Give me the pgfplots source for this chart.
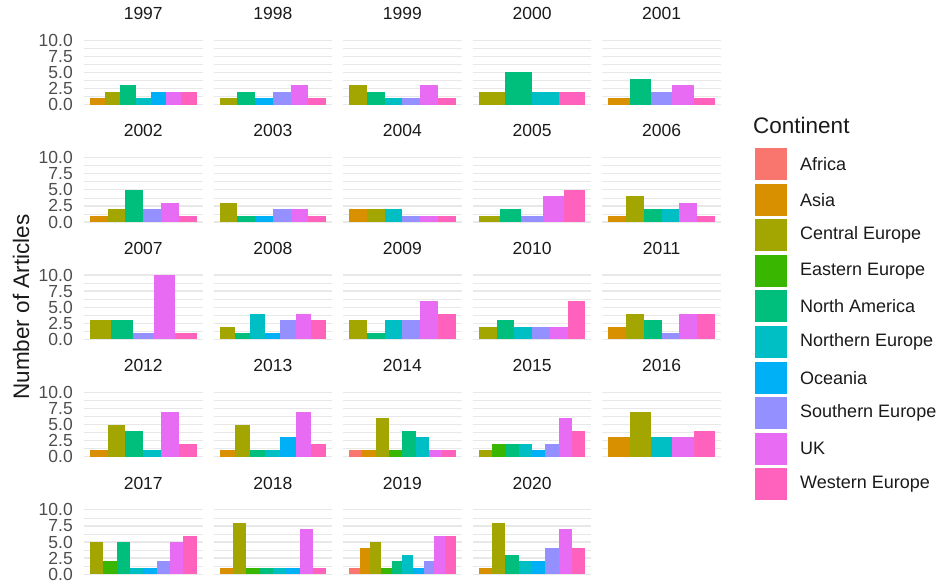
\documentclass[border=0pt]{standalone}
\usepackage{pgfplots}
\pgfplotsset{compat=1.18}
\usepackage{fontspec}
\setmainfont{Liberation Sans}
\definecolor{cAf}{HTML}{F8766D}
\definecolor{cAs}{HTML}{D89000}
\definecolor{cCE}{HTML}{A3A500}
\definecolor{cEE}{HTML}{39B600}
\definecolor{cNA}{HTML}{00BF7D}
\definecolor{cNE}{HTML}{00BFC4}
\definecolor{cOc}{HTML}{00B0F6}
\definecolor{cSE}{HTML}{9590FF}
\definecolor{cUK}{HTML}{E76BF3}
\definecolor{cWE}{HTML}{FF62BC}
\definecolor{gridc}{HTML}{E8E8E8}
\definecolor{tickc}{HTML}{4D4D4D}
\definecolor{txtc}{HTML}{1A1A1A}
\pgfplotsset{
  panel/.style={scale only axis, width=118.5pt, height=70.8pt, anchor=north west,
    ymin=-0.5, ymax=10.5, axis line style={draw=none}, xtick=\empty,
    ytick={0,2.5,5,7.5,10}, minor ytick={1.25,3.75,6.25,8.75},
    ymajorgrids, yminorgrids, tick style={draw=none},
    major grid style={draw=gridc, line width=1.3pt},
    minor grid style={draw=gridc, line width=0.7pt},
    yticklabels={},
    title style={at={(0.5,1)}, anchor=base, yshift=11.5pt, font=\fontsize{17.5}{20}\selectfont, text=txtc, inner sep=0pt}},
  lab/.style={yticklabels={0.0,2.5,5.0,7.5,10.0},
    yticklabel style={font=\fontsize{17.5}{20}\selectfont, text=tickc, inner xsep=0pt, xshift=-11pt}},
  n4/.style={xmin=-0.7222,xmax=3.7222},
  n5/.style={xmin=-0.7778,xmax=4.7778},
  n6/.style={xmin=-0.8333,xmax=5.8333},
  n7/.style={xmin=-0.8889,xmax=6.8889},
  n8/.style={xmin=-0.9444,xmax=7.9444},
  n10/.style={xmin=-1.0556,xmax=10.0556},
}
\newcommand\B[3]{\addplot[ybar, bar width=1, bar shift=0pt, fill=#2, draw=none] coordinates {(#1,#3)};}
\begin{document}
\begin{tikzpicture}
\useasboundingbox (0pt,0pt) rectangle (942pt,-582pt);
% Row 1
\begin{axis}[panel, n7, lab, at={(84pt,-37pt)}, title={1997}]
\B{0}{cAs}{1}\B{1}{cCE}{2}\B{2}{cNA}{3}\B{3}{cNE}{1}\B{4}{cOc}{2}\B{5}{cUK}{2}\B{6}{cWE}{2}
\end{axis}
\begin{axis}[panel, n6, at={(213.6pt,-37pt)}, title={1998}]
\B{0}{cCE}{1}\B{1}{cNA}{2}\B{2}{cOc}{1}\B{3}{cSE}{2}\B{4}{cUK}{3}\B{5}{cWE}{1}
\end{axis}
\begin{axis}[panel, n6, at={(343.2pt,-37pt)}, title={1999}]
\B{0}{cCE}{3}\B{1}{cNA}{2}\B{2}{cNE}{1}\B{3}{cSE}{1}\B{4}{cUK}{3}\B{5}{cWE}{1}
\end{axis}
\begin{axis}[panel, n4, at={(472.8pt,-37pt)}, title={2000}]
\B{0}{cCE}{2}\B{1}{cNA}{5}\B{2}{cNE}{2}\B{3}{cWE}{2}
\end{axis}
\begin{axis}[panel, n5, at={(602.4pt,-37pt)}, title={2001}]
\B{0}{cAs}{1}\B{1}{cNA}{4}\B{2}{cSE}{2}\B{3}{cUK}{3}\B{4}{cWE}{1}
\end{axis}
% Row 2
\begin{axis}[panel, n6, lab, at={(84pt,-154.4pt)}, title={2002}]
\B{0}{cAs}{1}\B{1}{cCE}{2}\B{2}{cNA}{5}\B{3}{cSE}{2}\B{4}{cUK}{3}\B{5}{cWE}{1}
\end{axis}
\begin{axis}[panel, n6, at={(213.6pt,-154.4pt)}, title={2003}]
\B{0}{cCE}{3}\B{1}{cNA}{1}\B{2}{cOc}{1}\B{3}{cSE}{2}\B{4}{cUK}{2}\B{5}{cWE}{1}
\end{axis}
\begin{axis}[panel, n6, at={(343.2pt,-154.4pt)}, title={2004}]
\B{0}{cAs}{2}\B{1}{cCE}{2}\B{2}{cNE}{2}\B{3}{cSE}{1}\B{4}{cUK}{1}\B{5}{cWE}{1}
\end{axis}
\begin{axis}[panel, n5, at={(472.8pt,-154.4pt)}, title={2005}]
\B{0}{cCE}{1}\B{1}{cNA}{2}\B{2}{cSE}{1}\B{3}{cUK}{4}\B{4}{cWE}{5}
\end{axis}
\begin{axis}[panel, n6, at={(602.4pt,-154.4pt)}, title={2006}]
\B{0}{cAs}{1}\B{1}{cCE}{4}\B{2}{cNA}{2}\B{3}{cNE}{2}\B{4}{cUK}{3}\B{5}{cWE}{1}
\end{axis}
% Row 3
\begin{axis}[panel, n5, lab, at={(84pt,-271.8pt)}, title={2007}]
\B{0}{cCE}{3}\B{1}{cNA}{3}\B{2}{cSE}{1}\B{3}{cUK}{10}\B{4}{cWE}{1}
\end{axis}
\begin{axis}[panel, n7, at={(213.6pt,-271.8pt)}, title={2008}]
\B{0}{cCE}{2}\B{1}{cNA}{1}\B{2}{cNE}{4}\B{3}{cOc}{1}\B{4}{cSE}{3}\B{5}{cUK}{4}\B{6}{cWE}{3}
\end{axis}
\begin{axis}[panel, n6, at={(343.2pt,-271.8pt)}, title={2009}]
\B{0}{cCE}{3}\B{1}{cNA}{1}\B{2}{cNE}{3}\B{3}{cSE}{3}\B{4}{cUK}{6}\B{5}{cWE}{4}
\end{axis}
\begin{axis}[panel, n6, at={(472.8pt,-271.8pt)}, title={2010}]
\B{0}{cCE}{2}\B{1}{cNA}{3}\B{2}{cNE}{2}\B{3}{cSE}{2}\B{4}{cUK}{2}\B{5}{cWE}{6}
\end{axis}
\begin{axis}[panel, n6, at={(602.4pt,-271.8pt)}, title={2011}]
\B{0}{cAs}{2}\B{1}{cCE}{4}\B{2}{cNA}{3}\B{3}{cSE}{1}\B{4}{cUK}{4}\B{5}{cWE}{4}
\end{axis}
% Row 4
\begin{axis}[panel, n6, lab, at={(84pt,-389.2pt)}, title={2012}]
\B{0}{cAs}{1}\B{1}{cCE}{5}\B{2}{cNA}{4}\B{3}{cNE}{1}\B{4}{cUK}{7}\B{5}{cWE}{2}
\end{axis}
\begin{axis}[panel, n7, at={(213.6pt,-389.2pt)}, title={2013}]
\B{0}{cAs}{1}\B{1}{cCE}{5}\B{2}{cNA}{1}\B{3}{cNE}{1}\B{4}{cOc}{3}\B{5}{cUK}{7}\B{6}{cWE}{2}
\end{axis}
\begin{axis}[panel, n8, at={(343.2pt,-389.2pt)}, title={2014}]
\B{0}{cAf}{1}\B{1}{cAs}{1}\B{2}{cCE}{6}\B{3}{cEE}{1}\B{4}{cNA}{4}\B{5}{cNE}{3}\B{6}{cUK}{1}\B{7}{cWE}{1}
\end{axis}
\begin{axis}[panel, n8, at={(472.8pt,-389.2pt)}, title={2015}]
\B{0}{cCE}{1}\B{1}{cEE}{2}\B{2}{cNA}{2}\B{3}{cNE}{2}\B{4}{cOc}{1}\B{5}{cSE}{2}\B{6}{cUK}{6}\B{7}{cWE}{4}
\end{axis}
\begin{axis}[panel, n5, at={(602.4pt,-389.2pt)}, title={2016}]
\B{0}{cAs}{3}\B{1}{cCE}{7}\B{2}{cNE}{3}\B{3}{cUK}{3}\B{4}{cWE}{4}
\end{axis}
% Row 5
\begin{axis}[panel, n8, lab, at={(84pt,-506.6pt)}, title={2017}]
\B{0}{cCE}{5}\B{1}{cEE}{2}\B{2}{cNA}{5}\B{3}{cNE}{1}\B{4}{cOc}{1}\B{5}{cSE}{2}\B{6}{cUK}{5}\B{7}{cWE}{6}
\end{axis}
\begin{axis}[panel, n8, at={(213.6pt,-506.6pt)}, title={2018}]
\B{0}{cAs}{1}\B{1}{cCE}{8}\B{2}{cEE}{1}\B{3}{cNA}{1}\B{4}{cNE}{1}\B{5}{cOc}{1}\B{6}{cUK}{7}\B{7}{cWE}{1}
\end{axis}
\begin{axis}[panel, n10, at={(343.2pt,-506.6pt)}, title={2019}]
\B{0}{cAf}{1}\B{1}{cAs}{4}\B{2}{cCE}{5}\B{3}{cEE}{1}\B{4}{cNA}{2}\B{5}{cNE}{3}\B{6}{cOc}{1}\B{7}{cSE}{2}\B{8}{cUK}{6}\B{9}{cWE}{6}
\end{axis}
\begin{axis}[panel, n8, at={(472.8pt,-506.6pt)}, title={2020}]
\B{0}{cAs}{1}\B{1}{cCE}{8}\B{2}{cNA}{3}\B{3}{cNE}{2}\B{4}{cOc}{2}\B{5}{cSE}{4}\B{6}{cUK}{7}\B{7}{cWE}{4}
\end{axis}
% Axis title
\node[rotate=90, font=\fontsize{22.5}{24}\selectfont, text=txtc, inner sep=0pt] at (21pt,-307pt) {Number of Articles};
% Legend
\node[anchor=west, font=\fontsize{22.5}{24}\selectfont, text=txtc, inner sep=0pt] at (753pt,-125pt) {Continent};
\foreach \c/\t [count=\i from 0] in {cAf/Africa, cAs/Asia, cCE/Central Europe, cEE/Eastern Europe, cNA/North America, cNE/Northern Europe, cOc/Oceania, cSE/Southern Europe, cUK/UK, cWE/Western Europe}{
  \fill[\c] (755pt,{-148pt-35.6pt*\i}) rectangle (787pt,{-180pt-35.6pt*\i});
  \node[anchor=west, font=\fontsize{18}{20}\selectfont, text=txtc, inner sep=0pt] at (800pt,{-164pt-35.6pt*\i}) {\t};
}
\end{tikzpicture}
\end{document}
